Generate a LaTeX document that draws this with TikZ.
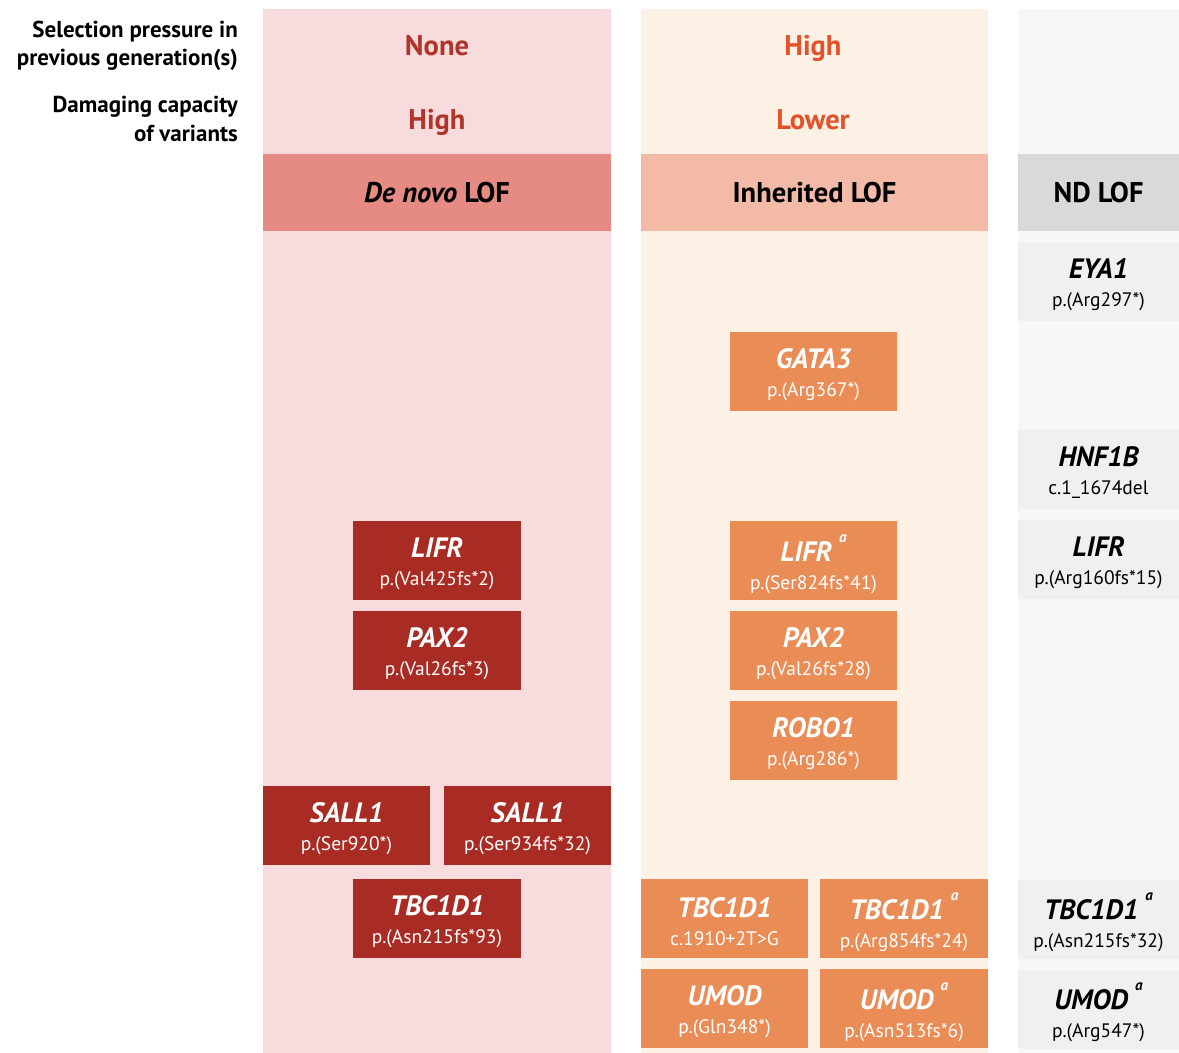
\documentclass[tikz,border=0pt]{standalone}
\usepackage{fontspec}
\setmainfont{PT Sans}
\usetikzlibrary{positioning}
\definecolor{dnbg}{HTML}{F8DCDD}
\definecolor{dnhead}{HTML}{E58B83}
\definecolor{dnred}{HTML}{A92C24}
\definecolor{dntext}{HTML}{B0342A}
\definecolor{inhbg}{HTML}{FDF0E5}
\definecolor{inhhead}{HTML}{F4BAA8}
\definecolor{inhorange}{HTML}{E98C56}
\definecolor{inhtext}{HTML}{E2532B}
\definecolor{ndbg}{HTML}{F7F7F7}
\definecolor{ndhead}{HTML}{D9D9D9}
\definecolor{ndcell}{HTML}{F0F0F0}

\newcommand{\gfont}{\fontsize{28}{28}\selectfont\bfseries\itshape}
\newcommand{\vfont}{\fontsize{19.5}{28}\selectfont}
\newcommand{\supfont}{\fontsize{15}{15}\selectfont\itshape}
% gene name (optional superscript) over the variant
\newcommand{\gene}[3]{{\gfont #1\if\relax\detokenize{#2}\relax\rule{0pt}{27pt}\else\hspace{7pt}\raisebox{19pt}{\supfont #2}\rule{0pt}{34pt}\fi}\\{\vfont #3}}

\begin{document}
\begin{tikzpicture}[x=1pt, y=-1pt,
  box/.style={minimum width=168pt, minimum height=79pt, inner sep=0pt, align=center, text=white, font=\vfont},
  dn/.style={box, fill=dnred},
  inh/.style={box, fill=inhorange},
  nd/.style={box, minimum width=161pt, fill=ndcell, text=black},
  head/.style={minimum height=77pt, inner sep=0pt, font=\fontsize{28.5}{28}\selectfont\bfseries},
  lvl/.style={anchor=base, inner sep=0pt, font=\fontsize{28.5}{28}\selectfont\bfseries},
  side/.style={align=right, anchor=east, inner sep=0pt, font=\fontsize{23}{28.5}\selectfont\bfseries}
]
  \useasboundingbox (0,0) rectangle (1179,1053);
  % column backgrounds
  \fill[dnbg] (263,9) rectangle (611,1053);
  \fill[inhbg] (641,9) rectangle (988,1053);
  \fill[ndbg] (1018,9) rectangle (1179,1053);

  % row labels
  \node[side] (selLbl) at (238,46) {Selection pressure in\\previous generation(s)};
  \node[side] (dmgLbl) at (238,119) {Damaging capacity\\of variants};
  \node[lvl, dntext] (dnSel) at (437,55) {None};
  \node[lvl, dntext] (dnDmg) at (437,129) {High};
  \node[lvl, inhtext] (inhSel) at (813,55) {High};
  \node[lvl, inhtext] (inhDmg) at (813,129) {Lower};

  % column headers
  \node[head, fill=dnhead, minimum width=348pt] (dnHead) at (437,192.5) {\textit{De novo} LOF};
  \node[head, fill=inhhead, minimum width=347pt] (inhHead) at (814.5,192.5) {Inherited LOF};
  \node[head, fill=ndhead, minimum width=161pt] (ndHead) at (1098.5,192.5) {ND LOF};

  % de novo LOF
  \node[dn] (dnLIFR) at (437,560) {\gene{LIFR}{}{p.(Val425fs*2)}};
  \node[dn] (dnPAX2) at (437,650) {\gene{PAX2}{}{p.(Val26fs*3)}};
  \node[dn, minimum width=167pt] (dnSALLa) at (346.5,825.5) {\gene{SALL1}{}{p.(Ser920*)}};
  \node[dn, minimum width=167pt] (dnSALLb) at (527.5,825.5) {\gene{SALL1}{}{p.(Ser934fs*32)}};
  \node[dn] (dnTBC) at (437,918) {\gene{TBC1D1}{}{p.(Asn215fs*93)}};

  % inherited LOF
  \node[inh, minimum width=167pt] (inhGATA) at (813.5,371) {\gene{GATA3}{}{p.(Arg367*)}};
  \node[inh, minimum width=167pt] (inhLIFR) at (813.5,560.5) {\gene{LIFR}{a}{p.(Ser824fs*41)}};
  \node[inh, minimum width=167pt] (inhPAX2) at (813.5,650) {\gene{PAX2}{}{p.(Val26fs*28)}};
  \node[inh, minimum width=167pt] (inhROBO) at (813.5,740) {\gene{ROBO1}{}{p.(Arg286*)}};
  \node[inh, minimum width=167pt] (inhTBCa) at (724.5,918.5) {\gene{TBC1D1}{}{c.1910+2T>G}};
  \node[inh] (inhTBCb) at (904,918.5) {\gene{TBC1D1}{a}{p.(Arg854fs*24)}};
  \node[inh, minimum width=167pt] (inhUMODa) at (724.5,1008.5) {\gene{UMOD}{}{p.(Gln348*)}};
  \node[inh] (inhUMODb) at (904,1008.5) {\gene{UMOD}{a}{p.(Asn513fs*6)}};

  % ND LOF
  \node[nd] (ndEYA) at (1098.5,281) {\gene{EYA1}{}{p.(Arg297*)}};
  \node[nd] (ndHNF) at (1098.5,469) {\gene{HNF1B}{}{c.1\_1674del}};
  \node[nd] (ndLIFR) at (1098.5,559) {\gene{LIFR}{}{p.(Arg160fs*15)}};
  \node[nd] (ndTBC) at (1098.5,919) {\gene{TBC1D1}{a}{p.(Asn215fs*32)}};
  \node[nd] (ndUMOD) at (1098.5,1009) {\gene{UMOD}{a}{p.(Arg547*)}};
\end{tikzpicture}
\end{document}
